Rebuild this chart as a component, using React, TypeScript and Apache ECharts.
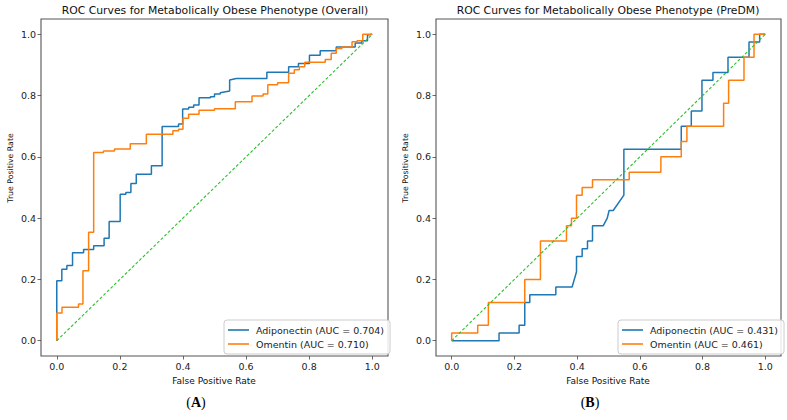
import React, { useEffect, useRef } from "react";
import * as echarts from "echarts";

// Overall cohort — Adiponectin ROC curve
const overallAdiponectinFpr = [
  0, 0, 0.016, 0.016, 0.032, 0.032, 0.05, 0.05, 0.085, 0.085, 0.117, 0.117, 0.15, 0.15,
  0.166, 0.166, 0.201, 0.201, 0.219, 0.219, 0.235, 0.235, 0.252, 0.252, 0.3, 0.3, 0.334,
  0.334, 0.386, 0.386, 0.399, 0.399, 0.418, 0.418, 0.434, 0.434, 0.451, 0.451, 0.487, 0.487,
  0.5, 0.5, 0.518, 0.518, 0.548, 0.548, 0.569, 0.666, 0.666, 0.735, 0.735, 0.766, 0.766,
  0.801, 0.801, 0.835, 0.835, 0.886, 0.886, 0.946, 0.946, 0.967, 0.967, 0.985, 0.985, 1,
];
const overallAdiponectinTpr = [
  0, 0.196, 0.196, 0.233, 0.233, 0.245, 0.245, 0.287, 0.287, 0.298, 0.298, 0.31, 0.31, 0.334,
  0.334, 0.389, 0.389, 0.478, 0.478, 0.484, 0.484, 0.513, 0.513, 0.543, 0.543, 0.571, 0.571,
  0.699, 0.699, 0.707, 0.707, 0.756, 0.756, 0.762, 0.762, 0.769, 0.769, 0.793, 0.793, 0.796,
  0.796, 0.805, 0.805, 0.809, 0.815, 0.851, 0.856, 0.856, 0.876, 0.876, 0.894, 0.894, 0.905,
  0.905, 0.932, 0.932, 0.946, 0.946, 0.959, 0.959, 0.972, 0.972, 0.979, 0.979, 0.998, 1,
];

// Overall cohort — Omentin ROC curve
const overallOmentinFpr = [
  0, 0, 0.0165, 0.0165, 0.069, 0.069, 0.083, 0.083, 0.101, 0.101, 0.117, 0.117, 0.148, 0.148,
  0.183, 0.183, 0.233, 0.233, 0.284, 0.284, 0.368, 0.368, 0.386, 0.386, 0.4, 0.4, 0.418, 0.418,
  0.451, 0.451, 0.5, 0.5, 0.566, 0.566, 0.619, 0.619, 0.654, 0.654, 0.669, 0.669, 0.7, 0.7,
  0.735, 0.735, 0.753, 0.753, 0.769, 0.769, 0.786, 0.786, 0.851, 0.851, 0.87, 0.87, 0.886,
  0.886, 0.904, 0.904, 0.936, 0.936, 0.952, 0.952, 0.97, 0.97, 1,
];
const overallOmentinTpr = [
  0, 0.09, 0.09, 0.109, 0.109, 0.12, 0.12, 0.228, 0.228, 0.354, 0.354, 0.614, 0.614, 0.619,
  0.619, 0.626, 0.626, 0.643, 0.643, 0.674, 0.674, 0.685, 0.685, 0.69, 0.69, 0.726, 0.726,
  0.739, 0.739, 0.752, 0.752, 0.757, 0.757, 0.78, 0.78, 0.799, 0.799, 0.805, 0.805, 0.835,
  0.835, 0.842, 0.842, 0.873, 0.873, 0.884, 0.884, 0.894, 0.894, 0.909, 0.909, 0.918, 0.918,
  0.938, 0.938, 0.954, 0.954, 0.959, 0.959, 0.976, 0.976, 0.979, 0.979, 1, 1,
];

// PreDM group — Adiponectin ROC curve
const preDmAdiponectinFpr = [
  0, 0.151, 0.151, 0.215, 0.215, 0.233, 0.233, 0.249, 0.249, 0.332, 0.332, 0.384, 0.398,
  0.398, 0.416, 0.416, 0.433, 0.433, 0.449, 0.449, 0.483, 0.496, 0.502, 0.515, 0.549, 0.549,
  0.732, 0.732, 0.764, 0.764, 0.798, 0.798, 0.833, 0.833, 0.881, 0.881, 0.948, 0.948, 0.982,
  0.982, 1,
];
const preDmAdiponectinTpr = [
  0, 0, 0.025, 0.025, 0.05, 0.05, 0.125, 0.125, 0.15, 0.15, 0.175, 0.175, 0.225, 0.275, 0.275,
  0.3, 0.3, 0.325, 0.325, 0.375, 0.375, 0.4, 0.425, 0.425, 0.475, 0.625, 0.625, 0.7, 0.7,
  0.75, 0.75, 0.85, 0.85, 0.875, 0.875, 0.925, 0.925, 0.975, 0.975, 1, 1,
];

// PreDM group — Omentin ROC curve
const preDmOmentinFpr = [
  0, 0, 0.083, 0.083, 0.117, 0.117, 0.233, 0.233, 0.283, 0.283, 0.366, 0.366, 0.382, 0.382,
  0.398, 0.398, 0.416, 0.416, 0.449, 0.449, 0.566, 0.566, 0.667, 0.667, 0.732, 0.732, 0.75,
  0.75, 0.867, 0.867, 0.883, 0.883, 0.932, 0.932, 0.964, 0.964, 1,
];
const preDmOmentinTpr = [
  0, 0.025, 0.025, 0.05, 0.05, 0.125, 0.125, 0.2, 0.2, 0.325, 0.325, 0.375, 0.375, 0.4, 0.4,
  0.475, 0.475, 0.5, 0.5, 0.525, 0.525, 0.55, 0.55, 0.6, 0.6, 0.65, 0.65, 0.7, 0.7, 0.775,
  0.775, 0.85, 0.85, 0.925, 0.925, 1, 1,
];

const chanceLine = [
  [0, 0],
  [1, 1],
];

const tickValues = [0, 0.2, 0.4, 0.6, 0.8, 1.0];

const overallNames = ["Adiponectin (AUC = 0.704)", "Omentin (AUC = 0.710)"];
const preDmNames = ["Adiponectin (AUC = 0.431)", "Omentin (AUC = 0.461)"];
const panelTitles = [
  "ROC Curves for Metabolically Obese Phenotype (Overall)",
  "ROC Curves for Metabolically Obese Phenotype (PreDM)",
];

const BLUE = "#1f77b4";
const ORANGE = "#ff7f0e";
const GREEN = "#2cbf2c";
const FONT = "DejaVu Sans";

const zip = (xs: number[], ys: number[]) => xs.map((x, i) => [x, ys[i]]);

const makeAxis = (gridIndex: number) => ({
  gridIndex,
  type: "value" as const,
  min: -0.05,
  max: 1.05,
  splitLine: { show: false },
  axisLine: { show: false, onZero: false },
  axisTick: {
    show: true,
    inside: false,
    length: 3.5,
    customValues: tickValues,
    lineStyle: { color: "#444", width: 0.8 },
  },
  axisLabel: {
    customValues: tickValues,
    formatter: (v: number) => v.toFixed(1),
    fontSize: 9.5,
    fontFamily: FONT,
    color: "#222",
    margin: 5,
  },
});

export default function App() {
  const ref = useRef<HTMLDivElement>(null);

  useEffect(() => {
    if (!ref.current) return;
    const chart = echarts.init(ref.current, undefined, { renderer: "svg" });

    const lineSeries = (
      name: string,
      data: number[][],
      color: string,
      axisIndex: number
    ) => ({
      name,
      type: "line" as const,
      data,
      xAxisIndex: axisIndex,
      yAxisIndex: axisIndex,
      showSymbol: false,
      symbol: "none",
      color,
      lineStyle: { color, width: 1.5 },
      silent: true,
    });

    const diagonal = (axisIndex: number) => ({
      type: "line" as const,
      data: chanceLine,
      xAxisIndex: axisIndex,
      yAxisIndex: axisIndex,
      showSymbol: false,
      symbol: "none",
      color: GREEN,
      lineStyle: { color: GREEN, width: 1.1, type: [3, 2] },
      silent: true,
    });

    const legendBox = (left: number, names: string[]) => ({
      data: names,
      left,
      top: 320,
      orient: "vertical" as const,
      icon: "rect",
      itemWidth: 21,
      itemHeight: 1.6,
      itemGap: 4,
      padding: [5, 6, 5, 4],
      backgroundColor: "rgba(255,255,255,0.85)",
      borderColor: "#cccccc",
      borderWidth: 1,
      borderRadius: 3,
      textStyle: { fontSize: 9.5, fontFamily: FONT, color: "#222", padding: [0, 0, 0, 2] },
      selectedMode: false,
    });

    const text = (
      x: number,
      y: number,
      content: string,
      fontSize: number,
      rotation = 0
    ) => ({
      type: "text" as const,
      x,
      y,
      rotation,
      style: {
        text: content,
        fontSize,
        fontFamily: FONT,
        fill: "#111",
        align: "center",
        verticalAlign: "middle",
      },
      silent: true,
    });

    const panelLabel = (x: number, letter: string) => ({
      type: "text" as const,
      x,
      y: 402,
      style: {
        text: `(${"{b|" + letter + "}"})`,
        fontSize: 14,
        fontFamily: "Liberation Serif",
        fill: "#000",
        align: "center",
        verticalAlign: "middle",
        rich: {
          b: { fontSize: 14, fontFamily: "Liberation Serif", fontWeight: "bold", fill: "#000" },
        },
      },
      silent: true,
    });

    chart.setOption({
      animation: false,
      backgroundColor: "#ffffff",
      grid: [
        { left: 41, top: 19, width: 347, height: 337, show: true, borderColor: "#555", borderWidth: 1.1, backgroundColor: "transparent" },
        { left: 436, top: 19, width: 345, height: 337, show: true, borderColor: "#555", borderWidth: 1.1, backgroundColor: "transparent" },
      ],
      xAxis: [makeAxis(0), makeAxis(1)],
      yAxis: [makeAxis(0), makeAxis(1)],
      legend: [legendBox(224, overallNames), legendBox(618, preDmNames)],
      series: [
        lineSeries(overallNames[0], zip(overallAdiponectinFpr, overallAdiponectinTpr), BLUE, 0),
        lineSeries(overallNames[1], zip(overallOmentinFpr, overallOmentinTpr), ORANGE, 0),
        diagonal(0),
        lineSeries(preDmNames[0], zip(preDmAdiponectinFpr, preDmAdiponectinTpr), BLUE, 1),
        lineSeries(preDmNames[1], zip(preDmOmentinFpr, preDmOmentinTpr), ORANGE, 1),
        diagonal(1),
      ],
      graphic: [
        text(215, 10, panelTitles[0], 10.8),
        text(608, 10, panelTitles[1], 10.8),
        text(214, 381, "False Positive Rate", 9),
        text(608, 381, "False Positive Rate", 9),
        text(10, 168, "True Positive Rate", 7.8, Math.PI / 2),
        text(405, 168, "True Positive Rate", 7.8, Math.PI / 2),
        panelLabel(196, "A"),
        panelLabel(590, "B"),
      ],
    });

    return () => chart.dispose();
  }, []);

  return (
    <div
      ref={ref}
      style={{ position: "fixed", left: 0, top: 0, width: 787, height: 420, background: "#fff" }}
    />
  );
}
